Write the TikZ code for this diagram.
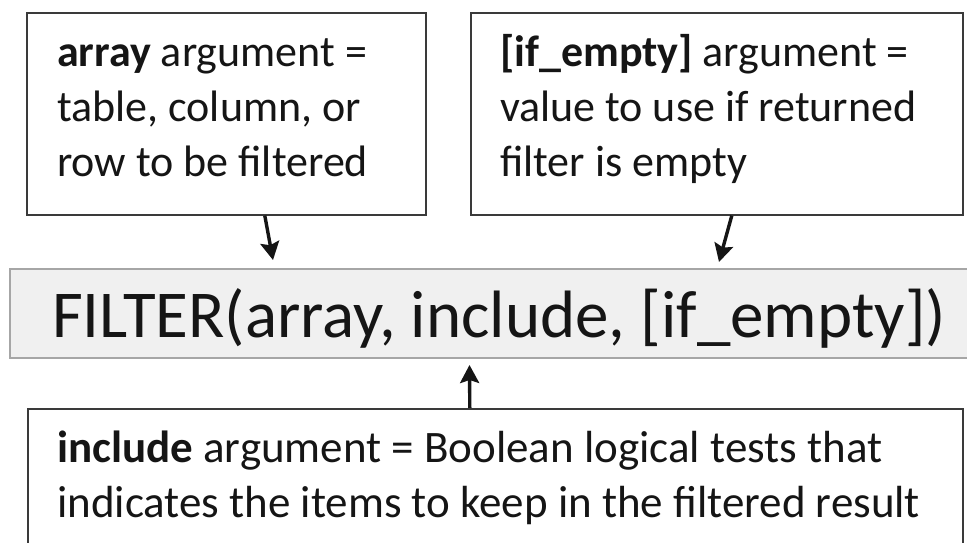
\documentclass[tikz,border=0pt]{standalone}
\usepackage{fontspec}
\setmainfont{Carlito}
\usetikzlibrary{calc,arrows.meta}
\definecolor{boxline}{HTML}{3A3A3A}
\definecolor{fnfill}{HTML}{F0F0F0}
\definecolor{fnline}{HTML}{A6A6A6}
\definecolor{ink}{HTML}{151515}
\begin{document}
\begin{tikzpicture}[x=1pt,y=1pt,
  argbox/.style={draw=boxline, line width=1.6pt, fill=white,
    anchor=north west, inner sep=0pt},
  fnbox/.style={draw=fnline, line width=2pt, fill=fnfill,
    anchor=north west, inner sep=0pt},
  bodytext/.style={anchor=base west, inner sep=0pt, text=ink,
    font=\fontsize{44}{55}\selectfont},
  pointer/.style={line width=3.4pt, draw=ink,
    -{Stealth[width=19pt,length=18pt,inset=3pt]}}]
\useasboundingbox (0,0) rectangle (967,543);
\clip (0,0) rectangle (967,543);
\fill[white] (0,0) rectangle (967,543);

% argument boxes
\node[argbox, minimum width=399pt, minimum height=202pt] (arr) at (26,531) {};
\node[bodytext] (arr1) at (57,476) {\textbf{array} argument =};
\node[bodytext] (arr2) at (57,421) {table, column, or};
\node[bodytext] (arr3) at (57,366) {row to be filtered};

\node[argbox, minimum width=492pt, minimum height=202pt] (emp) at (470,531) {};
\node[bodytext] (emp1) at (500,476) {\textbf{[if\_empty]} argument =};
\node[bodytext] (emp2) at (500,421) {value to use if returned};
\node[bodytext] (emp3) at (500,366) {filter is empty};

% formula bar
\node[fnbox, minimum width=970pt, minimum height=89pt] (fn) at (9,275) {};
\node[bodytext, font=\fontsize{67}{70}\selectfont]
  (fntext) at (52,205) {FILTER(array, include, [if\_empty])};

% include box
\node[argbox, minimum width=935pt, minimum height=160pt] (inc) at (27,135) {};
\node[bodytext, font=\fontsize{45}{55}\selectfont] (inc1) at (57,80)
  {\textbf{include} argument = Boolean logical tests that};
\node[bodytext, font=\fontsize{45}{55}\selectfont] (inc2) at (57,25)
  {indicates the items to keep in the filtered result};

% pointers
\draw[pointer] ($(arr.south)+(38.5,0)$) -- ($(fn.north)+(-222,8)$);
\draw[pointer] ($(emp.south)+(15,0)$) -- ($(fn.north)+(224,6)$);
\draw[pointer] ($(inc.north)+(-25.5,0)$) -- ($(fn.south)+(-25.5,-6)$);
\end{tikzpicture}
\end{document}
